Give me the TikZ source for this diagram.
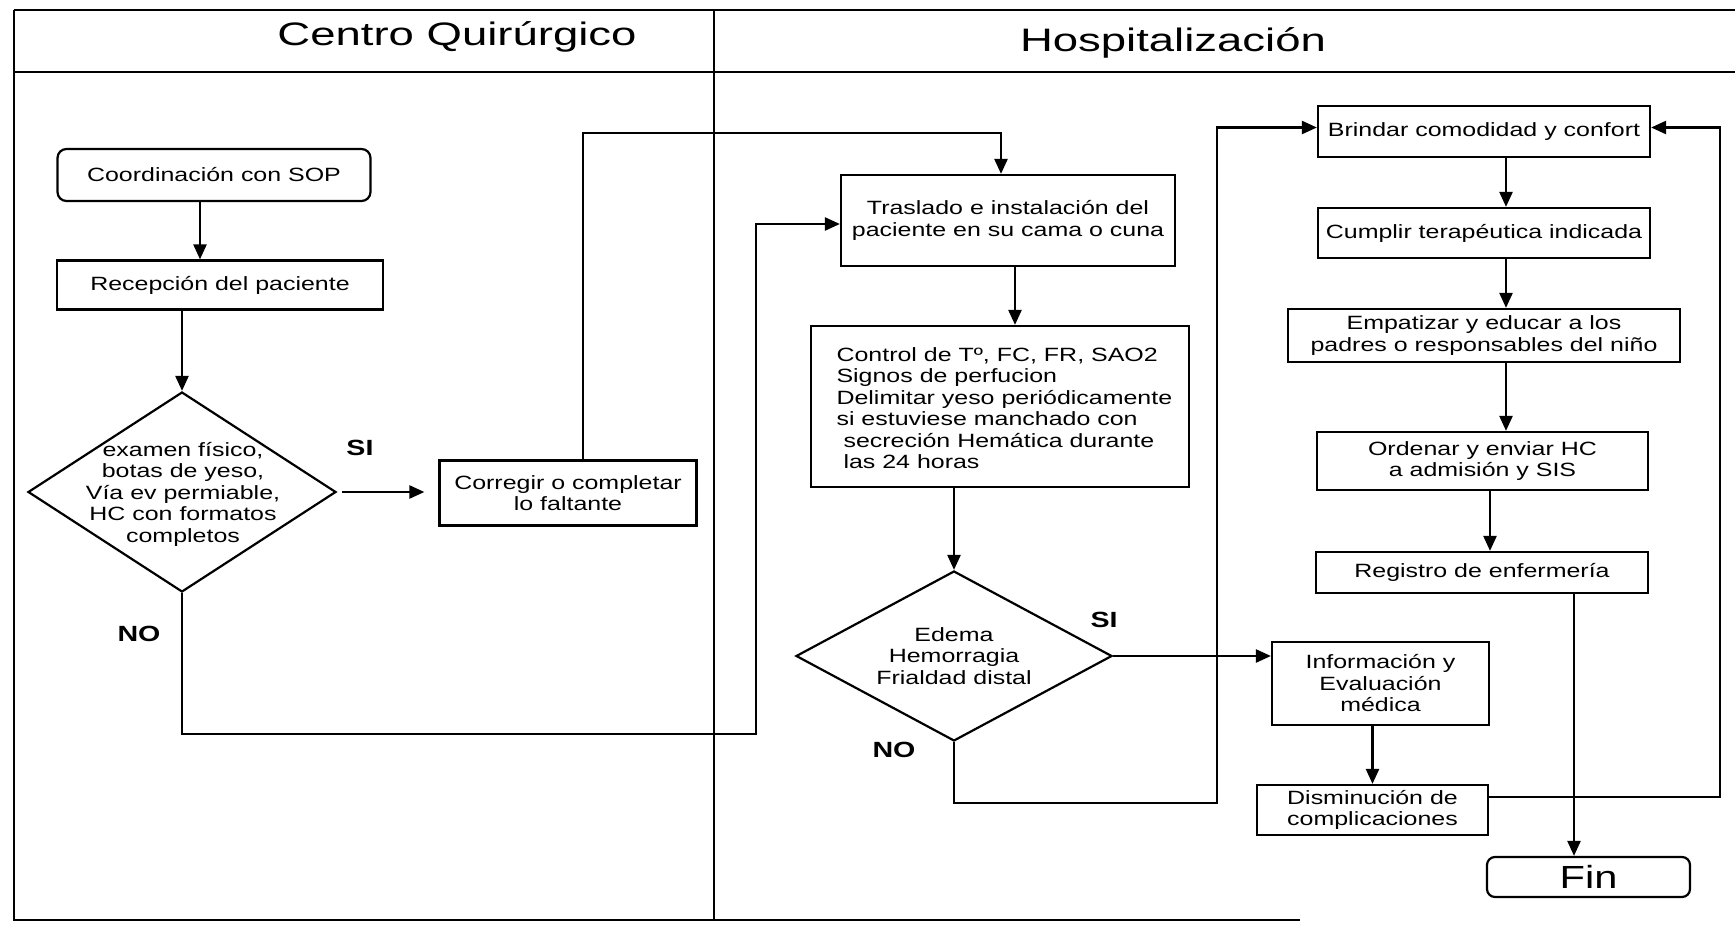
\documentclass[tikz,border=0pt]{standalone}
\usepackage{fontspec}
\setmainfont{Liberation Sans}[FakeStretch=1.3]
\newfontfamily\hdrfont{Liberation Sans}[FakeStretch=1.4]
\usetikzlibrary{arrows.meta,shapes.geometric}
\begin{document}
\begin{tikzpicture}[x=1pt,y=-1pt,
  txt/.style={font=\fontsize{19.2}{21.5}\selectfont},
  stepbox/.style={draw, line width=2.2pt, inner sep=0pt, align=center, txt},
  roundbox/.style={stepbox, rounded corners=9pt},
  decision/.style={draw, diamond, line width=2.2pt, inner sep=0pt},
  lbl/.style={font=\fontsize{22}{24}\selectfont\bfseries},
  conn/.style={line width=2.4pt},
  arr/.style={conn, -{Triangle[length=15pt,width=13pt]}},
  frame/.style={line width=2.2pt}
]
\useasboundingbox (0,0) rectangle (1735,925);

% frame and lanes
\draw[frame] (14,10) -- (1735,10);
\draw[frame] (14,72) -- (1735,72);
\draw[frame] (14,10) -- (14,920) -- (1300,920);
\draw[frame] (714,10) -- (714,920);
\node[font=\hdrfont\fontsize{32.5}{36}\selectfont, anchor=base] (t1) at (457,46) {Centro Quirúrgico};
\node[font=\hdrfont\fontsize{32.5}{36}\selectfont, anchor=base] (t2) at (1173,52) {Hospitalización};

% left lane
\node[roundbox, minimum width=313, minimum height=52] (coord) at (214,175) {Coordinación con SOP};
\node[stepbox, minimum width=326, minimum height=49] (recep) at (220,285) {Recepción del paciente};
\node[decision, minimum width=308, minimum height=200] (dia1) at (182,492) {};
\node[txt, align=center] (dia1t) at (183,494) {examen físico,\\botas de yeso,\\Vía ev permiable,\\HC con formatos\\completos};
\node[lbl] (si1) at (360,448) {SI};
\node[stepbox, minimum width=257, minimum height=65] (corr) at (568,493) {Corregir o completar\\lo faltante};
\node[lbl] (no1) at (139,634) {NO};

% right lane
\node[stepbox, minimum width=334, minimum height=91] (tras) at (1008,220.5) {Traslado e instalación del\\paciente en su cama o cuna};
\node[stepbox, minimum width=378, minimum height=161] (ctrl) at (1000,406.5) {};
\node[txt, align=left, anchor=west] (ctrlt) at (833,408) {Control de Tº, FC, FR, SAO2\\Signos de perfucion\\Delimitar yeso periódicamente\\si estuviese manchado con\\\hspace*{7pt}secreción Hemática durante\\\hspace*{7pt}las 24 horas};
\node[decision, minimum width=316, minimum height=170] (dia2) at (954,656) {};
\node[txt, align=center] (dia2t) at (954,656) {Edema\\Hemorragia\\Frialdad distal};
\node[lbl] (si2) at (1104,620) {SI};
\node[lbl] (no2) at (894,750) {NO};
\node[stepbox, minimum width=217, minimum height=83] (info) at (1380.5,683.5) {Información y\\Evaluación\\médica};
\node[stepbox, minimum width=231, minimum height=50] (dismin) at (1372.5,810) {Disminución de\\complicaciones};
\node[stepbox, minimum width=332, minimum height=51] (brin) at (1484,131.5) {Brindar comodidad y confort};
\node[stepbox, minimum width=332, minimum height=50] (cump) at (1484,233) {Cumplir terapéutica indicada};
\node[stepbox, minimum width=392, minimum height=53] (empa) at (1484,335.5) {Empatizar y educar a los\\padres o responsables del niño};
\node[stepbox, minimum width=331, minimum height=58] (orde) at (1482.5,461) {Ordenar y enviar HC\\a admisión y SIS};
\node[stepbox, minimum width=332, minimum height=41] (regi) at (1482,572.5) {Registro de enfermería};
\node[roundbox, minimum width=203, minimum height=40, font=\fontsize{32}{34}\selectfont, rounded corners=8pt] (fin) at (1588.5,877) {Fin};

% helper coordinates
\coordinate (c1) at (800,133);
\coordinate (c2) at (756,734);
\coordinate (c3) at (1217,803);
\coordinate (c4) at (1720,797);

% connectors left lane
\draw[arr] ([xshift=-14pt]coord.south) -- ([xshift=-14pt]coord.south |- recep.north);
\draw[arr] (dia1.north |- recep.south) -- (dia1.north);
\draw[arr, shorten <=5pt, shorten >=14pt] (dia1.east) -- (dia1.east -| corr.west);
\draw[arr] ([xshift=15pt]corr.north) |- (c1) -| ([xshift=-7pt]tras.north);
\draw[arr] (dia1.south) |- (c2) |- ([yshift=-3.5pt]tras.west);

% connectors right lane
\draw[arr] ([xshift=7pt]tras.south) -- ([xshift=7pt]tras.south |- ctrl.north);
\draw[arr] (dia2.north |- ctrl.south) -- (dia2.north);
\draw[arr] (dia2.east) -- (dia2.east -| info.west);
\draw[arr] (dia2.south) |- (c3) |- ([yshift=4pt]brin.west);
\draw[arr] ([xshift=22pt]brin.south) -- ([xshift=22pt]brin.south |- cump.north);
\draw[arr] ([xshift=22pt]cump.south) -- ([xshift=22pt]cump.south |- empa.north);
\draw[arr] ([xshift=22pt]empa.south) -- ([xshift=22pt]empa.south |- orde.north);
\draw[arr] ([xshift=7.5pt]orde.south) -- ([xshift=7.5pt]orde.south |- regi.north);
\draw[arr] ([xshift=-14.5pt]fin.north |- regi.south) -- ([xshift=-14.5pt]fin.north);
\draw[arr] (dismin.north |- info.south) -- (dismin.north);
\draw[arr] ([yshift=13pt]dismin.east) -- (c4) |- ([yshift=4pt]brin.east);
\end{tikzpicture}
\end{document}
